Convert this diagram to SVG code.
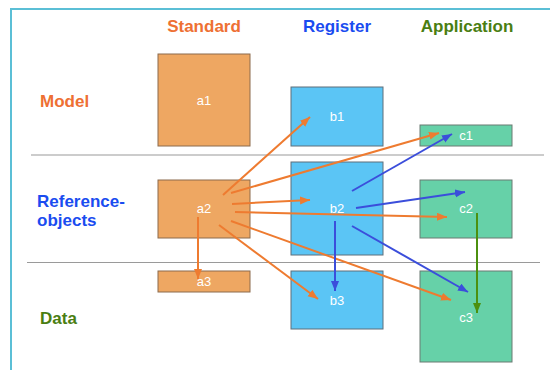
<svg xmlns="http://www.w3.org/2000/svg" width="550" height="370" viewBox="0 0 550 370">
<defs>
<style>
.hdr{font-family:"Liberation Sans",Arial,sans-serif;font-weight:bold;font-size:17px}
.lbl{font-family:"Liberation Sans",Arial,sans-serif;font-size:13px;fill:#ffffff;text-anchor:middle}
.bo{fill:#EEA762;stroke:#8C6B4C;stroke-width:1}
.bb{fill:#5BC5F5;stroke:#5F6F7A;stroke-width:1}
.bg{fill:#66D1A8;stroke:#6A7A72;stroke-width:1}
.ao{stroke:#EE7B30;stroke-width:2;fill:none;marker-end:url(#mo)}
.ab{stroke:#3B4EDB;stroke-width:2;fill:none;marker-end:url(#mb)}
.ag{stroke:#4C900F;stroke-width:2;fill:none;marker-end:url(#mg)}
.sep{stroke:#9A9A9A;stroke-width:1.2}
</style>
<marker id="mo" markerUnits="userSpaceOnUse" markerWidth="12" markerHeight="10" refX="10" refY="4" orient="auto"><path d="M0,0 L10,4 L0,8 Z" fill="#EE7B30"/></marker>
<marker id="mb" markerUnits="userSpaceOnUse" markerWidth="12" markerHeight="10" refX="10" refY="4" orient="auto"><path d="M0,0 L10,4 L0,8 Z" fill="#3B4EDB"/></marker>
<marker id="mg" markerUnits="userSpaceOnUse" markerWidth="12" markerHeight="10" refX="10" refY="4" orient="auto"><path d="M0,0 L10,4 L0,8 Z" fill="#4C900F"/></marker>
</defs>
<rect width="550" height="370" fill="#ffffff"/>
<path d="M11,370 V9 H550" fill="none" stroke="#5BBFD6" stroke-width="2"/>
<g id="headers">
<text class="hdr" x="204" y="32" text-anchor="middle" fill="#EE7033">Standard</text>
<text class="hdr" x="337" y="32" text-anchor="middle" fill="#1A4CF0">Register</text>
<text class="hdr" x="467" y="32" text-anchor="middle" fill="#4A7E12">Application</text>
<text class="hdr" x="40" y="107" fill="#EE7033">Model</text>
<text class="hdr" x="37" y="207" fill="#1A4CF0">Reference-</text>
<text class="hdr" x="37" y="226" fill="#1A4CF0">objects</text>
<text class="hdr" x="40" y="324" fill="#4A7E12">Data</text>
</g>
<line class="sep" x1="31" y1="155" x2="544" y2="155"/>
<line class="sep" x1="27" y1="262.5" x2="540" y2="262.5"/>
<g id="a1"><rect class="bo" x="158" y="54" width="92" height="92"/><text class="lbl" x="204" y="105">a1</text></g>
<g id="b1"><rect class="bb" x="291" y="87" width="92" height="59"/><text class="lbl" x="337" y="121">b1</text></g>
<g id="c1"><rect class="bg" x="420" y="125" width="92" height="21"/><text class="lbl" x="466" y="140">c1</text></g>
<g id="a2"><rect class="bo" x="158" y="180" width="92" height="58"/><text class="lbl" x="204" y="213">a2</text></g>
<g id="b2"><rect class="bb" x="291" y="162" width="92" height="93"/><text class="lbl" x="337" y="213">b2</text></g>
<g id="c2"><rect class="bg" x="420" y="180" width="92" height="58"/><text class="lbl" x="466" y="213">c2</text></g>
<g id="a3"><rect class="bo" x="158" y="271" width="92" height="21"/><text class="lbl" x="204" y="286">a3</text></g>
<g id="b3"><rect class="bb" x="291" y="271" width="92" height="58"/><text class="lbl" x="337" y="305">b3</text></g>
<g id="c3"><rect class="bg" x="420" y="271" width="92" height="91"/><text class="lbl" x="466" y="322">c3</text></g>
<g id="connectors">
<line class="ao" x1="223" y1="195" x2="310" y2="117"/>
<line class="ao" x1="231" y1="193" x2="439" y2="133"/>
<line class="ao" x1="232" y1="204" x2="310" y2="200"/>
<line class="ao" x1="235" y1="212" x2="447" y2="217"/>
<line class="ao" x1="231" y1="221" x2="451" y2="300"/>
<line class="ao" x1="219" y1="225" x2="318" y2="299"/>
<line class="ao" x1="198" y1="217" x2="198" y2="279"/>
<line class="ab" x1="352" y1="191" x2="452" y2="134"/>
<line class="ab" x1="356" y1="208" x2="465" y2="192"/>
<line class="ab" x1="335" y1="221" x2="335" y2="291"/>
<line class="ab" x1="352" y1="226" x2="468" y2="292"/>
<line class="ag" x1="477" y1="213" x2="477" y2="313"/>
</g>
</svg>
